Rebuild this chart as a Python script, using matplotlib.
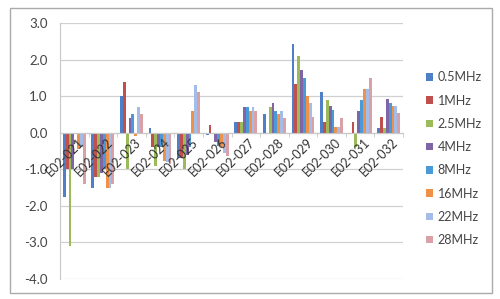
import matplotlib.pyplot as plt
import numpy as np
from matplotlib.patches import Rectangle

categories = ['E02-021', 'E02-022', 'E02-023', 'E02-024', 'E02-025', 'E02-026',
              'E02-027', 'E02-028', 'E02-029', 'E02-030', 'E02-031', 'E02-032']
series = ['0.5MHz', '1MHz', '2.5MHz', '4MHz', '8MHz', '16MHz', '22MHz', '28MHz']

f05 = [-1.75, -1.5, 1.0, 0.12, -0.7, -0.07, 0.3, 0.5, 2.43, 1.1, 0.0, 0.12]
f1 = [-1.0, -1.2, 1.4, -0.4, -0.7, 0.2, 0.3, 0.0, 1.33, 0.3, 0.3, 0.42]
f25 = [-3.1, -1.2, -1.0, -0.9, -1.0, 0.0, 0.3, 0.7, 2.1, 0.9, -0.4, 0.12]
f4 = [-1.0, -1.1, 0.4, -0.4, -0.6, -0.25, 0.7, 0.8, 1.72, 0.72, 0.6, 0.92]
f8 = [0.0, -1.0, 0.5, -0.4, -0.4, -0.35, 0.7, 0.6, 1.5, 0.62, 0.9, 0.82]
f16 = [-0.45, -1.5, -0.08, -0.78, 0.6, -0.4, 0.6, 0.5, 1.0, 0.15, 1.2, 0.72]
f22 = [-0.4, -1.5, 0.7, -0.8, 1.3, -0.55, 0.7, 0.6, 0.8, 0.15, 1.2, 0.72]
f28 = [-1.4, -1.4, 0.5, -0.85, 1.1, -0.65, 0.6, 0.4, 0.42, 0.4, 1.5, 0.55]
values = [f05, f1, f25, f4, f8, f16, f22, f28]

colors = ['#4F7FC6', '#C0504D', '#9BBB59', '#7F64A6', '#4A9AD8',
          '#F0914A', '#A3BDE8', '#D9A0A6']


def main():
    plt.rcParams['font.family'] = ['Lato', 'DejaVu Sans']
    fig = plt.figure(figsize=(5.0, 2.99), dpi=100)
    # outer chart border
    fig.patches.append(Rectangle((0.02, 0.02), 0.964, 0.953, transform=fig.transFigure,
                                 fill=False, edgecolor='#AAAAAA', linewidth=1.0))
    ax = fig.add_axes([0.12, 0.067, 0.686, 0.856])

    x = np.arange(len(categories))
    w = 0.1
    for i, (name, vals) in enumerate(zip(series, values)):
        ax.bar(x - 0.35 + i * w, vals, width=w, color=colors[i], label=name, zorder=2)

    ax.set_ylim(-4.0, 3.0)
    ax.set_xlim(-0.5, len(categories) - 0.5)
    ax.set_yticks(np.arange(-4, 3.1, 1.0))
    ax.set_yticklabels(['%.1f' % v for v in np.arange(-4, 3.1, 1.0)],
                       fontsize=9.5, color='#444444')
    ax.yaxis.grid(True, color='#D0D0D0', linewidth=0.9)
    ax.yaxis.set_zorder(0.5)
    ax.tick_params(axis='y', length=0, pad=9)

    for s in ['top', 'right']:
        ax.spines[s].set_visible(False)
    ax.spines['left'].set_color('#C8C8C8')
    ax.spines['left'].set_zorder(0.6)
    ax.spines['bottom'].set_position(('data', 0))
    ax.spines['bottom'].set_color('#C8C8C8')
    ax.spines['bottom'].set_zorder(3)

    ax.set_xticks(x + 0.12)
    ax.set_xticklabels(categories, rotation=45, ha='right', va='top',
                       rotation_mode='anchor', fontsize=9, color='#333333')
    ax.tick_params(axis='x', length=0, pad=2)
    ax.set_xticks(np.arange(-0.5, len(categories), 1.0), minor=True)
    ax.tick_params(axis='x', which='minor', length=3, color='#C8C8C8', direction='out')
    ax.xaxis.set_zorder(4)

    ax.legend(loc='center left', bbox_to_anchor=(1.035, 0.47), frameon=False,
              fontsize=9, handlelength=0.55, handleheight=0.55, handletextpad=0.35,
              labelspacing=0.9, labelcolor='#444444')

    fig.savefig('out.png', dpi=100)


if __name__ == '__main__':
    main()
